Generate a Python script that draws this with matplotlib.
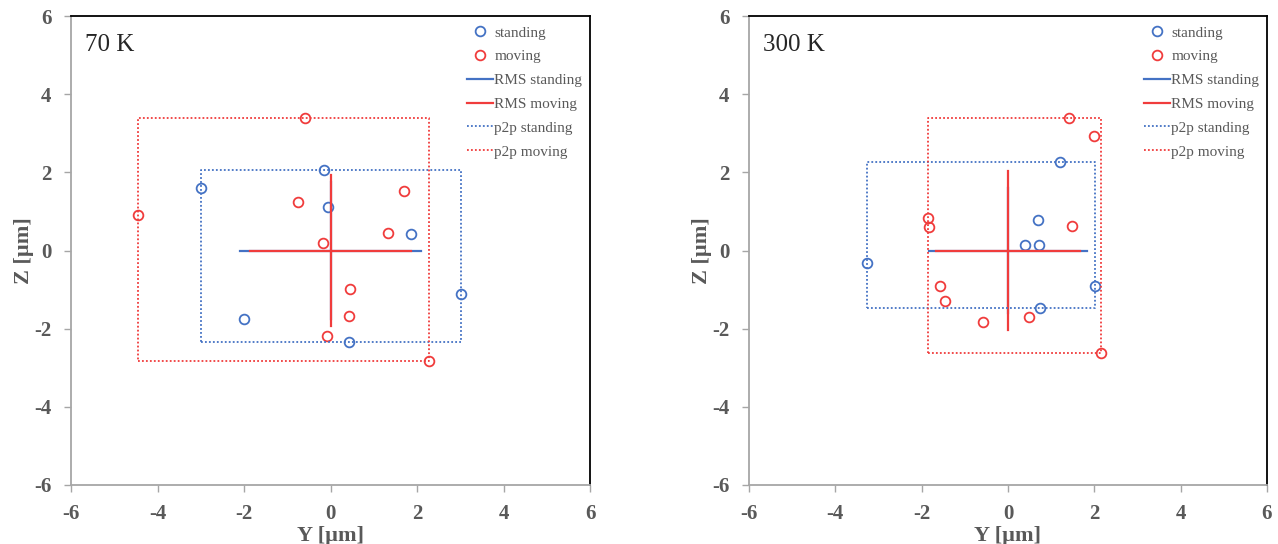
import matplotlib
matplotlib.use("Agg")
import matplotlib.pyplot as plt
import numpy as np

plt.rcParams['font.family'] = ['Liberation Serif', 'DejaVu Serif']
plt.rcParams['axes.unicode_minus'] = False

BLUE = '#4472c4'
RED = '#f03c3c'
GRAY = '#595959'

# 70 K
stand70_y = [-0.16, -3.00, -0.05, 1.87, 3.01, -2.00, 0.43]
stand70_z = [2.05, 1.59, 1.12, 0.42, -1.12, -1.74, -2.33]
move70_y = [-0.59, -4.45, -0.75, 1.71, 1.34, -0.18, 0.45, 0.43, -0.09, 2.28]
move70_z = [3.38, 0.90, 1.24, 1.53, 0.44, 0.18, -0.99, -1.68, -2.20, -2.84]
rms70_stand = [2.10, 1.75]   # half-length in Y, Z
rms70_move = [1.87, 1.92]

# 300 K
stand300_y = [1.20, 0.69, 0.40, 0.72, -3.26, 2.01, 0.75]
stand300_z = [2.27, 0.78, 0.14, 0.14, -0.33, -0.92, -1.48]
move300_y = [1.42, 1.99, -1.86, -1.83, 1.49, -1.58, -1.46, -0.59, 0.48, 2.15]
move300_z = [3.40, 2.92, 0.83, 0.59, 0.62, -0.90, -1.28, -1.84, -1.69, -2.63]
rms300_stand = [1.84, 1.60]
rms300_move = [1.67, 2.03]

panels = [
    ("70 K", stand70_y, stand70_z, move70_y, move70_z, rms70_stand, rms70_move),
    ("300 K", stand300_y, stand300_z, move300_y, move300_z, rms300_stand, rms300_move),
]

fig = plt.figure(figsize=(12.78, 5.44), dpi=100)
boxes = [[71/1278, 59/544, 519/1278, 469/544],
         [749/1278, 59/544, 518/1278, 469/544]]


def p2p_box(ax, y, z, color, label):
    x0, x1 = min(y), max(y)
    z0, z1 = min(z), max(z)
    ax.plot([x0, x1, x1, x0, x0], [z0, z0, z1, z1, z0], ls=(0, (1, 1.2)),
            color=color, lw=1.3, label=label)


for rect, (title, sy, sz, my, mz, rs, rm) in zip(boxes, panels):
    ax = fig.add_axes(rect)
    ax.plot(sy, sz, 'o', mfc='none', mec=BLUE, ms=7, mew=1.3, label='standing')
    ax.plot(my, mz, 'o', mfc='none', mec=RED, ms=7, mew=1.3, label='moving')
    # RMS crosses
    ax.plot([-rs[0], rs[0]], [0, 0], color=BLUE, lw=1.6, label='RMS standing')
    ax.plot([0, 0], [-rs[1], rs[1]], color=BLUE, lw=1.6)
    ax.plot([-rm[0], rm[0]], [0, 0], color=RED, lw=1.6, label='RMS moving')
    ax.plot([0, 0], [-rm[1], rm[1]], color=RED, lw=1.6)
    p2p_box(ax, sy, sz, BLUE, 'p2p standing')
    p2p_box(ax, my, mz, RED, 'p2p moving')

    ax.set_xlim(-6, 6)
    ax.set_ylim(-6, 6)
    ax.set_xticks(np.arange(-6, 7, 2))
    ax.set_yticks(np.arange(-6, 7, 2))
    for lab in ax.get_xticklabels() + ax.get_yticklabels():
        lab.set_fontweight('bold')
    ax.tick_params(colors='#a6a6a6', labelcolor=GRAY, labelsize=15, length=5,
                   width=1)
    ax.tick_params(axis='x', pad=9)
    ax.tick_params(axis='y', pad=9)
    ax.spines['left'].set_color('#a6a6a6')
    ax.spines['bottom'].set_color('#a6a6a6')
    ax.spines['top'].set_color('black')
    ax.spines['right'].set_color('black')
    for s in ax.spines.values():
        s.set_linewidth(1.3)
    ax.set_xlabel('Y [µm]', fontsize=16, fontweight='bold', color=GRAY, labelpad=1)
    ax.set_ylabel('Z [µm]', fontsize=16, fontweight='bold', color=GRAY, labelpad=0)
    ax.text(0.027, 0.962, title, transform=ax.transAxes, fontsize=18,
            color='#262626', va='top', ha='left')
    leg = ax.legend(loc='upper right', frameon=False, fontsize=11,
                    handlelength=1.7, handletextpad=0.1, labelspacing=0.66,
                    borderaxespad=0.1, bbox_to_anchor=(1.0, 0.995))
    for t in leg.get_texts():
        t.set_color(GRAY)

fig.savefig('out.png', dpi=100)
